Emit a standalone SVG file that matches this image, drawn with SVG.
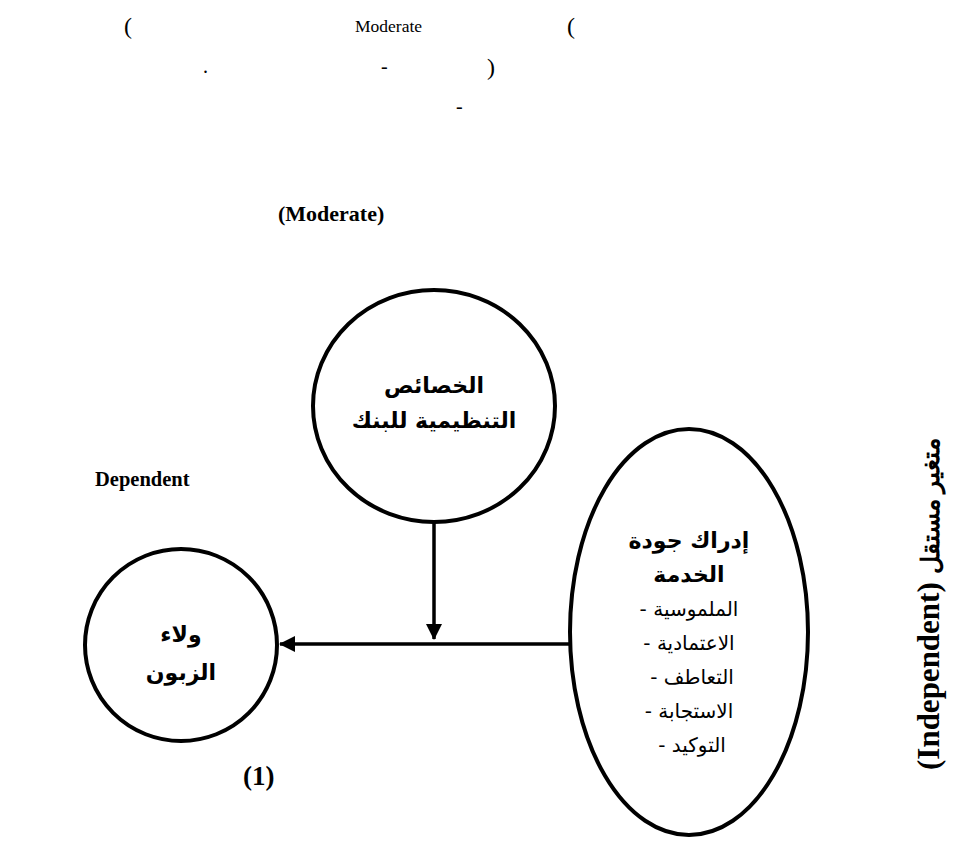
<svg xmlns="http://www.w3.org/2000/svg" width="953" height="861" viewBox="0 0 953 861">
<style>
.bg{fill:#fff}
.node{fill:#fff;stroke:#000;stroke-width:4}
.conn{stroke:#000;stroke-width:3.5;fill:none}
.ser{font-family:"Liberation Serif","Times New Roman",serif;fill:#000}
.b{font-weight:bold}
.ar{font-family:"DejaVu Sans","Liberation Sans",sans-serif;fill:#000;text-anchor:middle}
.arb{font-weight:bold;font-size:22px}
.arr{font-size:20px;direction:rtl}
</style>
<defs>
<marker id="ah" markerWidth="16" markerHeight="16" refX="15" refY="8" orient="auto" markerUnits="userSpaceOnUse">
<path d="M0,0 L16,8 L0,16 z" fill="#000"/>
</marker>
</defs>
<rect class="bg" width="953" height="861"/>
<g id="header">
<text class="ser" x="124" y="34" font-size="24">(</text>
<text class="ser" x="355" y="32" font-size="17.5">Moderate</text>
<text class="ser" x="567" y="34" font-size="24">(</text>
<text class="ser" x="203" y="73" font-size="20">.</text>
<text class="ser" x="381" y="73" font-size="20">-</text>
<text class="ser" x="487" y="75" font-size="24">)</text>
<text class="ser" x="456" y="113" font-size="20">-</text>
</g>
<g id="labels">
<text class="ser b" x="278" y="221" font-size="22">(Moderate)</text>
<text class="ser b" x="95" y="486" font-size="20.5">Dependent</text>
<text class="ser b" x="243" y="785" font-size="27">(1)</text>
<text class="ser b" font-size="31" transform="translate(939,770) rotate(-90)">(Independent) <tspan font-size="25">متغير مستقل</tspan></text>
</g>
<g id="connectors">
<line class="conn" x1="434" y1="522" x2="434" y2="639" marker-end="url(#ah)"/>
<line class="conn" x1="572" y1="644" x2="280" y2="644" marker-end="url(#ah)"/>
</g>
<g id="node-moderator">
<ellipse class="node" cx="434" cy="406" rx="121" ry="116"/>
<text class="ar arb" x="434" y="393">الخصائص</text>
<text class="ar arb" x="434" y="428">التنظيمية للبنك</text>
</g>
<g id="node-dependent">
<circle class="node" cx="181" cy="645" r="96"/>
<text class="ar arb" x="181" y="642">ولاء</text>
<text class="ar arb" x="181" y="680">الزبون</text>
</g>
<g id="node-independent">
<ellipse class="node" cx="689" cy="632" rx="119" ry="203"/>
<text class="ar arb" x="689" y="548" font-size="20">إدراك جودة</text>
<text class="ar arb" x="689" y="582" font-size="20">الخدمة</text>
<text class="ar arr" x="689" y="616">الملموسية -</text>
<text class="ar arr" x="689" y="650">الاعتمادية -</text>
<text class="ar arr" x="692" y="684">التعاطف -</text>
<text class="ar arr" x="689" y="718">الاستجابة -</text>
<text class="ar arr" x="692" y="752">التوكيد -</text>
</g>
</svg>
